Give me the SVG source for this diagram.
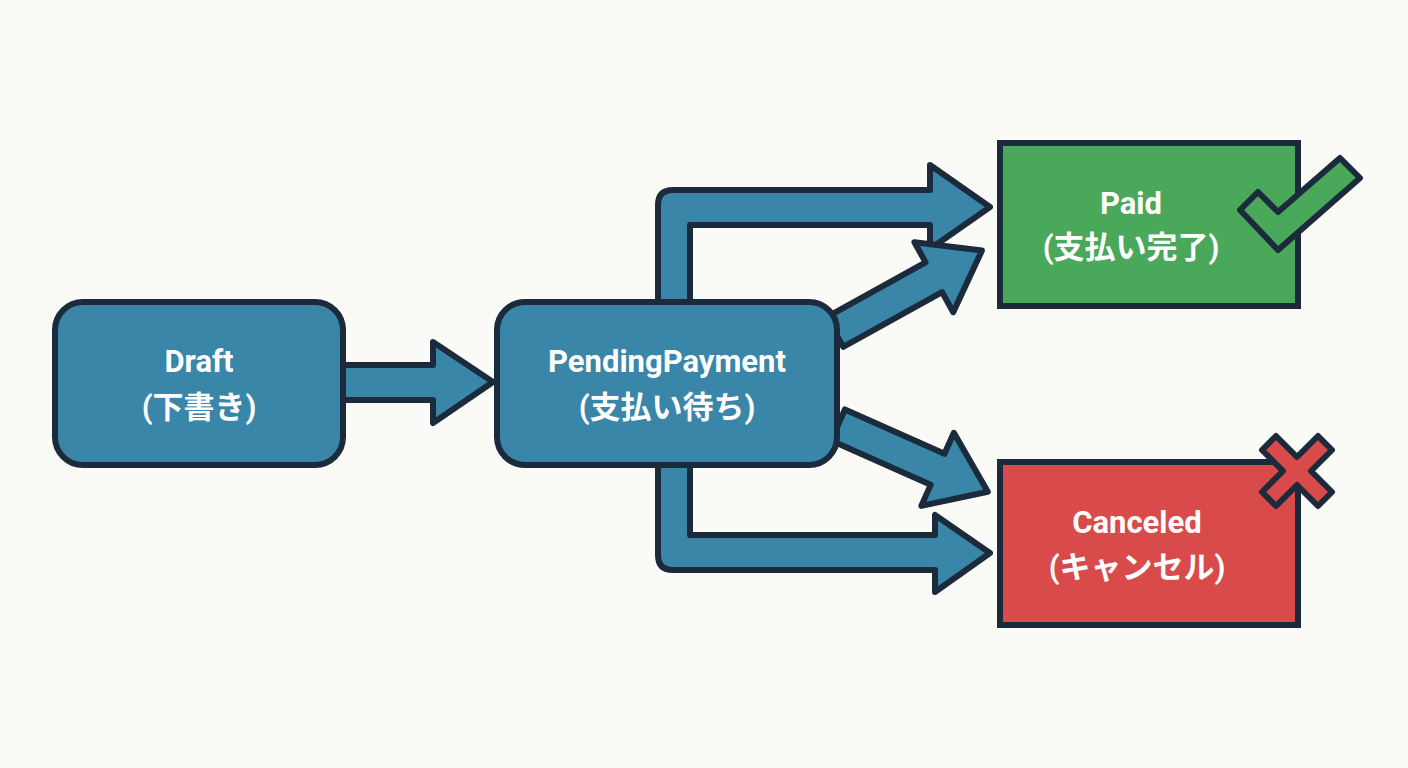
<svg xmlns="http://www.w3.org/2000/svg" width="1408" height="768" viewBox="0 0 1408 768">
<style>
.arr{fill:#3a86a8;stroke:#1b2b3c;stroke-width:6;stroke-linejoin:round}
.node{stroke:#1b2b3c;stroke-width:6}
.t{font-family:"Roboto","Noto Sans CJK JP",sans-serif;font-weight:bold;font-size:31px;fill:#fff;text-anchor:middle}
</style>
<rect width="1408" height="768" fill="#fafaf7"/>
<g id="connectors">
<polygon class="arr" points="343,365 433,365 433,342 493,382 433,423 433,400 343,400"/>
<path class="arr" d="M658,305 L658,205 Q658,190 673,190 L930,190 L930,165 L990,207 L930,249 L930,225 L690,225 L690,305 Z"/>
<path class="arr" d="M658,462 L658,555 Q658,570 673,570 L935,570 L935,592 L990,553 L935,515 L935,535 L690,535 L690,462 Z"/>
<polygon class="arr" transform="translate(835,332) rotate(-29)" points="0,-17 113,-17 113,-40 168,0 113,40 113,17 0,17"/>
<polygon class="arr" transform="translate(838,425) rotate(24)" points="0,-17 109,-17 109,-40 164,0 109,40 109,17 0,17"/>
</g>
<g id="draft"><rect class="node" x="55" y="302" width="288" height="163" rx="28" fill="#3a86a8"/>
<text class="t" x="199" y="372">Draft</text><text class="t" x="199" y="418">(下書き)</text></g>
<g id="pending"><rect class="node" x="497" y="302" width="340" height="163" rx="28" fill="#3a86a8"/>
<text class="t" x="667" y="372">PendingPayment</text><text class="t" x="667" y="418">(支払い待ち)</text></g>
<g id="paid"><rect class="node" x="1000" y="143" width="298" height="163" fill="#4aa85a"/>
<text class="t" x="1131" y="214">Paid</text><text class="t" x="1131" y="258">(支払い完了)</text>
<polygon points="1240,210 1258,192 1278,212 1340,158 1360,178 1278,250" fill="#4aa85a" stroke="#1b2b3c" stroke-width="6" stroke-linejoin="round"/></g>
<g id="canceled"><rect class="node" x="1000" y="462" width="298" height="163" fill="#d94a4a"/>
<text class="t" x="1137" y="533">Canceled</text><text class="t" x="1137" y="578">(キャンセル)</text>
<polygon points="1262,450 1276,436 1297,457 1318,436 1332,450 1311,471 1332,492 1318,506 1297,485 1276,506 1262,492 1283,471" fill="#d94a4a" stroke="#1b2b3c" stroke-width="6" stroke-linejoin="round"/></g>
</svg>
